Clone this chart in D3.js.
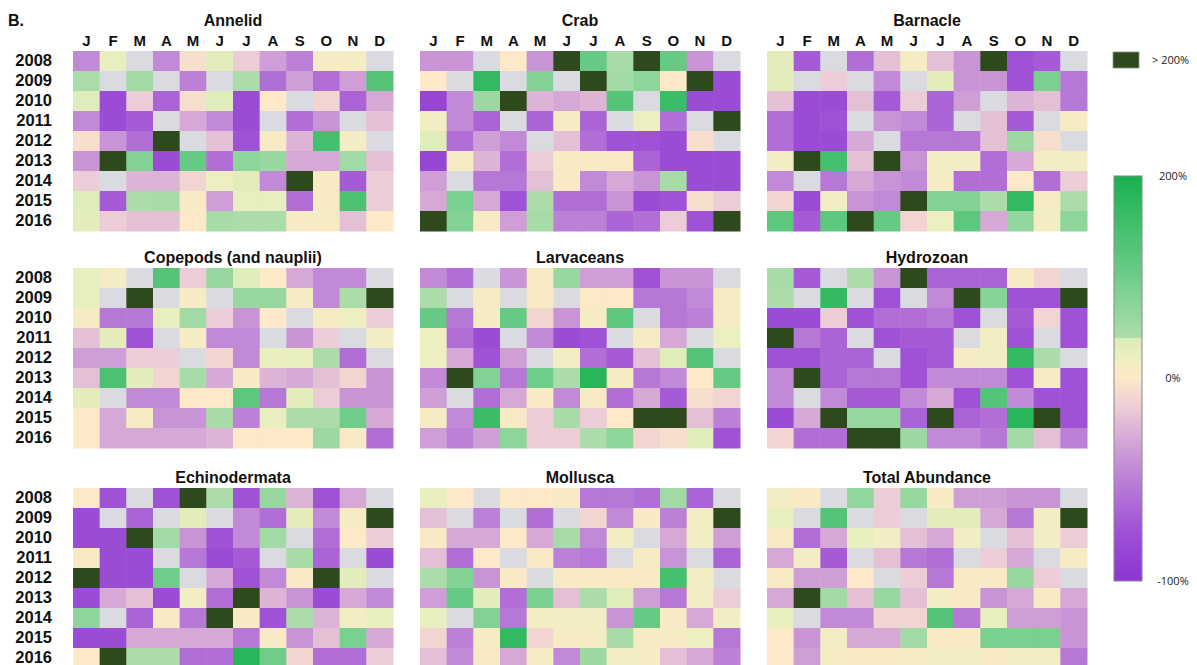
<!DOCTYPE html>
<html>
<head>
<meta charset="utf-8">
<script src="https://cdn.jsdelivr.net/npm/d3@7"></script>
<style>
  html, body { margin: 0; padding: 0; background: #fff; }
  svg { display: block; }
</style>
</head>
<body>
<svg id="chart" width="1197" height="665"></svg>
<script>
// Monthly percent change in abundance, 2008–2016 (null = not sampled)
const months = ["J", "F", "M", "A", "M", "J", "J", "A", "S", "O", "N", "D"];
const years = ["2008", "2009", "2010", "2011", "2012", "2013", "2014", "2015", "2016"];
const taxa = ["Annelid", "Crab", "Barnacle", "Copepods (and nauplii)", "Larvaceans", "Hydrozoan", "Echinodermata", "Mollusca", "Total Abundance"];
const legendTicks = ["200%", "0%", "-100%"];
const overLabel = "> 200%";

const annelid = [
  [-45, 25, null, -45, -5, 30, -15, -35, -50, 10, 10, null],
  [40, null, 50, null, -50, null, 40, -60, -35, -60, -35, 130],
  [35, -80, -15, -65, -5, 35, -80, 0, null, -10, -65, -30],
  [-45, -80, -70, null, -30, -45, -80, null, -60, -40, null, -20],
  [-5, -40, -60, 250, null, -20, -75, 5, -25, 150, 10, null],
  [-40, 250, 80, -80, 110, -60, 70, 60, -30, -30, 50, -20],
  [-15, null, -25, -25, -10, 20, 30, -45, 250, 5, -70, -15],
  [35, -70, 40, 45, 5, -35, 25, 25, -60, 5, 140, -15],
  [30, -15, -20, -20, 0, 45, 40, 40, 5, 10, -20, 0]
];
const crab = [
  [-40, -40, null, 0, -40, 250, 110, 45, 250, 110, -40, null],
  [0, null, 170, null, 80, null, 250, 50, 70, 0, 250, -80],
  [-85, -45, 55, 250, -25, -30, -25, 130, null, 160, -80, -80],
  [15, -45, -65, null, -65, 10, -65, null, 20, -60, null, 250],
  [35, -60, -35, -45, null, -20, -60, -75, -75, -80, -5, null],
  [-85, 10, -25, -60, -15, 5, 5, 5, -65, -80, -80, -80],
  [-35, null, -55, -55, -20, 5, -45, -30, -40, 45, -80, -80],
  [-30, 90, -30, -75, 40, -60, -60, -40, -80, -75, -5, -15],
  [250, 80, 5, -35, 45, -50, -50, -65, -60, -15, -75, 250]
];
const barnacle = [
  [30, -70, null, -60, -20, 10, -20, -40, 250, -75, -70, null],
  [30, null, -15, null, -45, null, 30, -40, -40, -75, 90, -55],
  [-20, -80, -80, -20, -70, -15, -65, -35, null, -25, -20, -55],
  [-60, -80, -75, null, -40, -45, -65, null, -20, -70, null, 10],
  [-60, -80, -80, -30, null, -55, -55, -55, -20, 55, -5, null],
  [15, 250, 150, -20, 250, -40, 15, 15, -60, -30, 15, 15],
  [-45, null, -55, -30, -40, -45, 10, -60, -60, 0, -60, -15],
  [-10, -80, 15, -40, -45, 250, 80, 80, 40, 170, 10, 40],
  [120, -70, 120, 250, 110, -10, 20, 120, -30, 65, 15, 70]
];
const copepods = [
  [25, 10, null, 130, -15, 60, 35, 0, -30, -45, -45, null],
  [25, null, 250, null, 5, null, 60, 60, 10, -45, 40, 250],
  [10, -55, -55, 25, 50, -15, -40, 0, null, 10, 20, -15],
  [-20, 30, -75, null, 10, -45, -45, null, -40, -15, null, 15],
  [-35, -35, -15, -15, null, -10, -45, 25, 25, 40, -60, null],
  [-20, 140, 30, -10, 45, -30, 5, -25, -30, -20, -10, -40],
  [30, null, -45, -45, 0, 0, 120, -55, 30, -15, -40, -40],
  [0, -30, 10, -40, -40, 45, -50, 25, 40, 40, 100, -30],
  [0, -30, -30, -30, -30, -25, 0, 0, 0, 55, 5, -60]
];
const larvaceans = [
  [-45, -60, null, -40, 5, 60, -35, -35, -75, -40, -40, null],
  [40, null, 10, null, 5, null, 0, 0, -55, -55, -45, 10],
  [110, -55, 10, 110, -10, -40, 10, 120, null, -55, -50, 10],
  [20, -60, -80, null, -45, -80, -75, null, 10, -30, null, 20],
  [20, -30, -75, -35, null, 15, -60, -70, -20, 35, 130, null],
  [-45, 250, 80, -55, 100, 40, 180, 10, -55, -45, 0, 110],
  [-35, null, -60, -30, 5, -45, 5, -60, -30, -70, -5, -10],
  [10, -45, 160, 5, -15, 45, -15, 0, 250, 250, -20, -50],
  [-35, -50, -35, 70, -15, -15, 40, 70, -10, -5, 35, -75]
];
const hydrozoan = [
  [45, -70, null, 40, -40, 250, -65, -65, -65, 10, -10, null],
  [40, null, 170, null, -75, null, -45, 250, 75, -75, -75, 250],
  [-80, -80, -15, -75, -60, -60, -55, -75, null, -70, -10, -75],
  [250, -55, -65, null, -75, -70, -70, null, 15, -75, null, -75],
  [-75, -75, -65, -65, null, -75, -70, 10, 15, 170, 40, null],
  [-45, 250, -65, -55, -55, -75, -45, -45, -45, -75, 10, -75],
  [-45, null, -45, -70, -70, -45, -30, -75, 130, -45, -75, -75],
  [-80, -30, 250, 60, 60, -65, 250, -65, -60, 180, 250, -75],
  [-10, -60, -60, 250, 250, 55, -45, -45, -55, 50, -20, -50]
];
const echinodermata = [
  [0, -75, null, -75, 250, 40, -75, 60, -25, -75, -30, null],
  [-80, null, -65, null, 30, null, -45, -60, 30, -45, 10, 250],
  [-80, -80, 250, 50, -40, -75, -45, 50, null, -60, 0, -15],
  [5, -80, -80, null, -55, -80, -70, null, 45, -65, null, -80],
  [250, -80, -80, 100, null, -30, -75, -45, 5, 250, 30, null],
  [-80, -30, -20, -80, 15, -60, 250, -25, -40, -80, -30, -45],
  [70, null, -65, 5, -55, 250, 5, -75, 40, -25, 15, 25],
  [-80, -80, -30, -30, -30, -30, -55, 5, -40, -20, 90, -30],
  [0, 250, 40, 40, -60, -60, 180, 100, -10, -60, -60, -15]
];
const mollusca = [
  [25, 0, null, 0, 0, 5, -55, -55, -60, 50, -65, null],
  [-20, null, -50, null, -60, null, -10, -45, 5, -50, 15, 250],
  [5, -30, -30, 0, -30, 45, -45, 15, null, -30, 15, -35],
  [-20, -60, 0, null, 5, -50, -55, null, 10, -40, null, -65],
  [40, 80, -40, 5, null, 5, 5, 5, 5, 150, 15, null],
  [-35, 110, 30, -60, 90, -20, 40, 35, -35, -55, 15, -15],
  [25, null, 80, -55, 15, 15, 15, -40, 110, 5, -30, 15],
  [-10, -50, 10, 170, -10, 10, 10, 45, 10, 10, 20, -55],
  [-20, -45, 5, -30, 10, -45, 55, 15, 10, -20, -30, -50]
];
const totalAbundance = [
  [15, 5, null, 65, -15, 60, 5, -35, -35, -40, -40, null],
  [25, null, 130, null, -15, null, 30, 30, -30, -55, 15, 250],
  [5, -60, -30, 25, 15, -20, -30, 15, null, -20, 15, -15],
  [-30, 15, -70, null, -20, -55, -60, null, -15, -30, null, 10],
  [5, -35, -35, 0, null, -15, -55, 5, 5, 60, -15, null],
  [-30, 250, 50, -20, 60, -20, 15, 5, -40, -30, 5, -30],
  [25, null, -45, -45, -10, -10, 130, -55, 25, -35, -35, -40],
  [0, -40, 15, -30, -30, 50, 5, 5, 90, 90, 90, -40],
  [0, -35, 10, 5, 5, 10, 15, 15, 5, 15, 15, -55]
];

const series = [annelid, crab, barnacle, copepods, larvaceans, hydrozoan, echinodermata, mollusca, totalAbundance];

// Diverging colour ramp: purple (-100%) -> cream (0%) -> green (200%)
const color = d3.scaleLinear()
  .domain([-100, -75, -50, -30, -15, 0, 20, 39.9, 40, 100, 200])
  .range(["#8a35d2", "#9f52d6", "#bc80d6", "#d5a8d6", "#ecccd6", "#fde8c8",
          "#eeefc0", "#d9ecb8", "#acdcaa", "#6fcd8a", "#18b04f"])
  .interpolate(d3.interpolateRgb)
  .clamp(true);
const overColor = "#2e4a1d";
const missingColor = "#dadbe0";
const fill = v => v == null ? missingColor : (v > 200 ? overColor : color(v));

const svg = d3.select("#chart");
const font = "'Liberation Sans', Arial, sans-serif";

// Panel grid
const panelW = 320, panelH = 180;
const colX = [73, 420, 767];
const rowY = [51, 268, 488];

const x = d3.scaleBand().domain(d3.range(12)).range([0, panelW]).padding(0);
const y = d3.scaleBand().domain(years).range([0, panelH]).padding(0);

svg.append("text")
  .attr("x", 8).attr("y", 26)
  .attr("font-family", font).attr("font-weight", "bold").attr("font-size", 16)
  .attr("fill", "#111")
  .text("B.");

taxa.forEach((name, i) => {
  const c = i % 3, r = Math.floor(i / 3);
  const g = svg.append("g").attr("transform", `translate(${colX[c]},${rowY[r]})`);
  const data = series[i];

  const cells = [];
  data.forEach((row, yi) => row.forEach((v, mi) => cells.push({ year: years[yi], m: mi, v })));

  g.selectAll("rect.cell")
    .data(cells)
    .join("rect")
    .attr("class", "cell")
    .attr("x", d => x(d.m))
    .attr("y", d => y(d.year))
    .attr("width", x.bandwidth() + 0.5)
    .attr("height", y.bandwidth() + 0.5)
    .attr("fill", d => fill(d.v));

  // Panel title
  g.append("text")
    .attr("x", panelW / 2)
    .attr("y", r === 0 ? -25 : -5)
    .attr("text-anchor", "middle")
    .attr("font-family", font).attr("font-weight", "bold").attr("font-size", 16)
    .attr("fill", "#111")
    .text(name);

  // Month letters along the top row of panels
  if (r === 0) {
    const top = d3.axisTop(x).tickSize(0).tickPadding(5).tickFormat(m => months[m]);
    const ax = g.append("g").call(top);
    ax.select(".domain").remove();
    ax.selectAll("text")
      .attr("font-family", font).attr("font-weight", "bold").attr("font-size", 15)
      .attr("fill", "#111");
  }

  // Year labels on the left column
  if (c === 0) {
    const left = d3.axisLeft(y).tickSize(0).tickPadding(21);
    const ay = g.append("g").call(left);
    ay.select(".domain").remove();
    ay.selectAll("text")
      .attr("font-family", font).attr("font-weight", "bold").attr("font-size", 16.5)
      .attr("fill", "#111");
  }
});

// Legend: >200% swatch
const legFont = "'Open Sans', 'Liberation Sans', sans-serif";
svg.append("rect")
  .attr("x", 1113).attr("y", 52).attr("width", 26).attr("height", 16)
  .attr("fill", overColor).attr("stroke", "#8a9a80").attr("stroke-width", 0.8);
svg.append("text")
  .attr("x", 1152).attr("y", 64)
  .attr("font-family", legFont).attr("font-size", 11).attr("fill", "#222")
  .text(overLabel);

// Legend: colour bar, 0% sits midway between -100% and 200%
const barY = d3.scaleLinear().domain([-100, 0, 200]).range([581, 378, 176]);
const barX = 1114, barW = 28;
const grad = svg.append("defs").append("linearGradient")
  .attr("id", "ramp").attr("x1", 0).attr("x2", 0).attr("y1", 1).attr("y2", 0);
const samples = d3.range(-100, 0, 2).concat(d3.range(0, 39.9, 2), [39.9, 40], d3.range(42, 201, 4));
samples.forEach(v => {
  grad.append("stop")
    .attr("offset", (barY(-100) - barY(v)) / (barY(-100) - barY(200)))
    .attr("stop-color", color(v));
});
svg.append("rect")
  .attr("x", barX).attr("y", barY(200))
  .attr("width", barW).attr("height", barY(-100) - barY(200))
  .attr("fill", "url(#ramp)")
  .attr("stroke", "#888").attr("stroke-width", 1);

const tickVals = [200, 0, -100];
svg.selectAll("text.tick-lab")
  .data(tickVals)
  .join("text")
  .attr("class", "tick-lab")
  .attr("x", 1173)
  .attr("y", d => barY(d) + 4)
  .attr("text-anchor", "middle")
  .attr("font-family", legFont).attr("font-size", 11).attr("fill", "#222")
  .text((d, i) => legendTicks[i]);
</script>
</body>
</html>
